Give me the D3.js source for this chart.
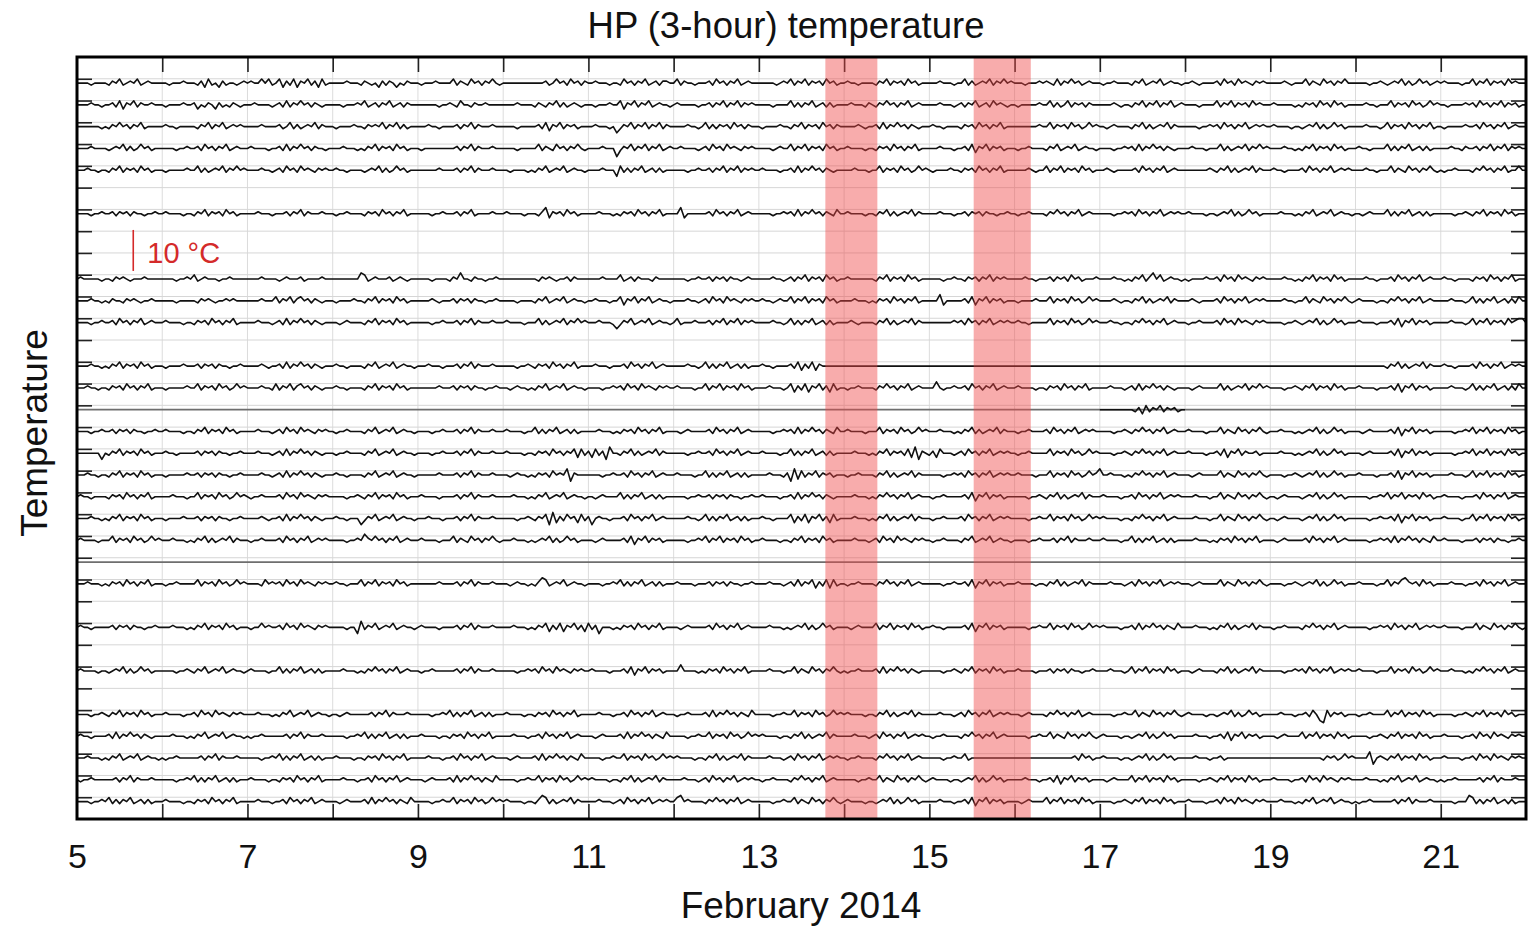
<!DOCTYPE html>
<html><head><meta charset="utf-8">
<script src="https://cdn.jsdelivr.net/npm/d3@7/dist/d3.min.js"></script>
<style>
body{margin:0;background:#fff}
svg{display:block}
text{font-family:"Liberation Sans",Arial,Helvetica,sans-serif}
</style>
</head><body>
<svg id="chart" width="1535" height="927"></svg>
<script>
// ---------------- DATA ----------------
const dayTicks = [5,6,7,8,9,10,11,12,13,14,15,16,17,18,19,20,21,22];
const labelDays = [5,7,9,11,13,15,17,19,21];
const bands = [[13.78,14.39],[15.52,16.19]];
const emptyLevels = [15, 22];
const STEP = 0.5; // degC per digit step, digit 5 = 0 degC
// one string per day (Feb 5 ... Feb 21) of hourly HP temperature samples, then the Feb 22 00:00 value
const st00 = ["555545555465745657456555","554555655546374536455456","565575745736473657463745","555565554654536465354655","545556555574654756465754","555555555555645756475646","556555455475646574564665","574655455564756465745655","555554565746574656475645","565545555465746564756455","555655545574645657465756","555455565654746575645655","545565555465745657456554","556545555647564756546565","555565455574654756465755","555545565456574645756456","565555455746574656475655","5"];
const st01 = ["555565545564736574655655","545555655635465364546545","556555545647465756465455","555455565745646574564655","555555455654755465565555","555565555465465746456545","554555655736574657456554","565555545564657465746565","555545555746465745646455","556555465465756465745655","555655545646574564756545","545555565574645746564655","555565455465746574657456","555545555746574656475655","565555545465647564756455","555655455574656475645756","554555565647564657465645","5"];
const st02 = ["555555545465756465745555","565545555546574657456565","555565555645746456574655","545555655465657465746455","555655455556465746555655","555545555564736574656455","556555452465746574657465","555565545746465647564655","545555655465746564756465","555565455647465756465455","565545555465647564657455","555555565574656475645756","554565555465746456574655","555545565647564657456565","565555455456574645756455","555655545746564756465745","545555565564756465745655","5"];
const st03 = ["555565555456574645756455","555545565564756465745655","565555455647465756465545","555655545465746564756455","545555555556465746555655","555545555574654756465754","555565551465746574657456","556555545647564756546565","555545655746574656475645","565555455465647564657455","555655545564736574656455","545565555465745657456554","555545565647465756465455","556555455574645657465756","555565545465746564756455","565545555746465745646455","555655465564657465746565","5"];
const st04 = ["555655455465746564756455","545555565574645657465756","555565545647564756546565","565545555456574645756455","555555655556465746555655","554555545465745657456554","555565552746465745646455","555545565564657465746565","565555455647465756465455","555655545574656475645756","545555655465647564657455","555565455746574656475645","556545555564756465745655","555555565465746456574655","565545555647564657456565","555655455574654756465754","545565555465756465745575","5"];
const st06 = ["555545565564656465545565","565555455465746564756455","555655545556465746555655","545565555465647564657455","555545565556465745555655","565555455546836564756455","555655545465647564657455","558355555564756465745655","555545565647465756465475","565555455465746456574655","555655545564656465545565","545565555465756465745655","555545565647564657456565","565555455456574645756455","555655545465745657456554","554565555746465745646455","555545565465746564756455","5"];
const st09 = ["565555545546565455565555","555545565745655545565555","555565555456555645555655","555555558745655564565455","555545555465855465545565","555555555546565455646555","555565555745646555465555","555545565564656465545655","555565545646574656475645","565555555465746564756455","555545565546564657465655","555655455564656475645556","555565545465746857456554","545555655647564756546565","555565545465746564756455","555655455564756465745655","565545555465647564657455","5"];
const st10 = ["555565545465546565455655","555545555546565455656555","555565557465746756465455","545555655465746564756455","555565455564656465545565","555545555465745657456554","556555455736574657456554","555565545647564756546565","565545655746574656475645","555655545465647564657455","555835555564736574656455","545555655574656475645756","555565455465746456574655","556545555647564657456565","555565545574654756465754","565555455465756465745655","555655545746465745646475","5"];
const st11 = ["555545565564756465745655","565555455465647564657455","555655545647465756465455","554565555465746564756455","555545565556465746555655","565555455574645657465756","555655542465745657456554","574555655564657465746565","555565545746465745646455","556545555465746456574655","555555565647564657456565","565545555574656475645756","555655455465756465745655","545565555647564756546565","555545565456574645756455","565555455564736574656455","555655545746574656475677","5"];
const st13 = ["555565545465746564756455","545555655564656465545565","555565455647465756465455","565545555465745657456554","555655545556465746555655","555545565465647564657455","556555455564756465745655","555565545746465745646455","565545555647364736555555","555555555555555555555555","555555555555555555555555","555555555555555555555555","555555555555555555555555","555555555555555555555555","555555555555555555555555","555555555465746456574655","565545555647564657456565","5"];
const st14 = ["555655455465647564657455","545555565574656475645756","555565547465746756465455","565545555465746564756455","555555655564656465545565","554565545465745657456554","555545565647564756546565","565555455746574656475645","555655545736473657463745","545565555465756465745655","558545565564756465745655","565555455465647564657455","555655545647465756465455","554565555574645657465756","555545565465746564756455","565555455564736574656455","555655545746465745646475","5"];
const st15 = ["555555555546374657465645","5"]; // Feb 17 - 18 only
const st16 = ["555545565564656465545565","565555455465746564756455","555655545647564756546565","545565555465745657456554","555545565556465746555655","565555455746465745646455","555655545465647564657455","554565555564756465745655","555545565647465756465475","565555455574656475645756","555655545465746456574655","545565555647564657456565","555545565465756465745655","565555455574654756465754","555655545456574645756455","554565555564736574656455","555545565746574656475645","5"];
const st17 = ["555555525465746564756455","565545555564656465545565","555655545647465756465455","545565555465745657456554","555545565556465746555655","565555455465647564657374","637462855465746456574655","555545565564756465745655","565555455746465745646455","555655545465746564738265","463755545647564657456565","545565555574656475645756","555545565465756465745655","565555455647365746556455","555655545456574645756455","554565555564736574656455","555545565746574656475645","5"];
const st18 = ["555655455465746564756455","545555565564656465545565","555565545647465756465455","565545555465745657456554","555555655556465746555655","554565545465647565826555","555545565564756465745655","565555455746465745646455","555655546283746574656455","545565555465746456574655","555545565647564657456565","565555455574656475645756","855655545465756465745655","554565555574654756465754","555545565456574645756455","565555455564736574656455","555655545746574656475645","5"];
const st19 = ["565545555465647564657455","555655545574656475645756","545565555647564756546565","555545565465746564756455","565555455556465746555655","555655545465745657456554","554565555746465745646455","555545565564656465545565","565555455647465756465455","555655545465756465745655","545565555564736574656455","555545565465746456574655","565555455647564657456565","555655545574654756465754","554565555456574645756455","555545565746574656475645","565555455564756465745655","5"];
const st20 = ["555565545465746564756455","545555655564656465545565","555565455647465756465455","565545552465745657456554","555655545556465746555655","555545565465728364756374","625655455564756465745655","555565545746465745646455","565545555736473657463745","555655545465746456574655","545565555647564657456565","555545565574656475645756","565555455465756465745655","555655545574654756465754","554565555456574645756455","555545565564736574656455","565555455746574656475645","5"];
const st21 = ["565555455574656475645756","555655545465746456574655","545565555647564657456565","555545565865756465745655","565555455574654756465754","555655545456574645756455","554565555564736574656455","555545565746574656475645","565555455465746564756455","555655545647564756546565","545565555465745657456554","555545565556465746555655","565555455746465745646455","555655545465647564657455","554565555564756465745655","555545565647465756465475","565555455564656465545565","5"];
const st23 = ["555655545465647564657455","545565555574656475645756","555547565647564756546565","565545557465746564756455","555555655556465746555655","554565545468745657456554","555545565746465745646455","565555455564656465545565","555655545647465736473745","545565555465756465745655","555545565564736574656455","565555455465746456574655","555655545647564657456565","554565555574654756465754","555545565456574645756455","565555455746578656475645","555655545564756465745655","5"];
const st25 = ["565545555564656465545565","555655545465746564756455","545575655647564756546565","555545528465745657456554","565555455556465746555655","555655545465736473657463","746255545465647564657455","554565555564756465745655","555655545456574645756455","554565555746574656475645","565545555564736574656455","555545565574656475645756","565555455647465756465475","555655545465746456574655","545565555465756465745655","555545565647564657456565","565555455574654756465754","5"];
const st27 = ["565555455456574645756455","555545565465745657456554","565555455746465745646455","555655545465756465745655","545565555556465746555655","555545565647564756546565","565555455564736574656455","558555545465647564657455","555655545574654756465754","545565555647465756465455","555545565465746564756455","565555455564656465545565","555655545746574656475645","554565555465746456574655","555545565647564657456565","565555455574656475645756","555655545465756465745655","5"];
const st29 = ["555545565465746564756455","565555455647564756546565","555655545465745657456554","554565555556465746555655","555545565746465745646455","565555455465647564657455","555655545564756465745655","545565555647465756465475","555545565574656475645756","565555455465746456574655","555655545647564657456565","554565555465756465745655","555545565574654756465754","565555455456574645756455","555655545564752174656455","545565555746574656475645","555545565465746564756455","5"];
const st30 = ["565545555647465756465455","555655545465745657456554","545565555556465746555655","555545565746465745646455","565555455465647564657455","555655545564756465745655","554565555647465756465475","555545565574656475645756","565555455465746456574655","555655545647564657456565","545565555465756465745655","555545565574654756465754","565555455456574645756455","555655545564736574656455","554565555746574656475645","555545565465746564756455","565555455647564756546565","5"];
const st31 = ["555655545465745657456554","545565555556465746555655","555545565746465745646455","565555455465647564657455","555655545564756465745655","554565555647465756465475","555545565574656475645756","565555455465746456574655","555655545647564657456565","545565555465756465745655","555545565574555555555555","555555555555555556475645","565555455456574645756455","555655545564555555555555","555555555555555465645756","555582565465746564756455","565555455647564756546565","5"];
const st32 = ["545565555556465746555655","555545565746465745646455","565555455465647564657455","555655545564756465745655","554565555647465756465475","555545565574656475645756","565555455465746456574655","555655545647564657456565","545565555465756465745655","555545565574654756465754","565555455456574645756455","555655545564736574656455","554565555746574656475645","555545565465746564756455","565555455647564756546565","555655545465745657456554","545565555556465746555655","5"];
const st33 = ["555545565746465745646455","565555455465647564657455","555655545564756465745655","554565555647465756465475","555545565574656475645756","565555455468746456574655","555655545647564657456565","578565555465756465745655","555545565574654756465754","565555455456574645756455","555655545564736574656455","554565555746574656475645","555545565465746564756455","565555455647564756546565","555655545465745657456554","545565555556465746555655","555545558746465745646455","5"];

const stations = [
  {level:0, start:5, days:st00},{level:1, start:5, days:st01},{level:2, start:5, days:st02},
  {level:3, start:5, days:st03},{level:4, start:5, days:st04},{level:6, start:5, days:st06},
  {level:9, start:5, days:st09},{level:10, start:5, days:st10},{level:11, start:5, days:st11},
  {level:13, start:5, days:st13},{level:14, start:5, days:st14},{level:15, start:17, days:st15},
  {level:16, start:5, days:st16},{level:17, start:5, days:st17},{level:18, start:5, days:st18},
  {level:19, start:5, days:st19},{level:20, start:5, days:st20},{level:21, start:5, days:st21},
  {level:23, start:5, days:st23},{level:25, start:5, days:st25},{level:27, start:5, days:st27},
  {level:29, start:5, days:st29},{level:30, start:5, days:st30},{level:31, start:5, days:st31},
  {level:32, start:5, days:st32},{level:33, start:5, days:st33}
];
const scaleBar = {level:8, degC:10, day:5.66, label:"10 °C"};

// ---------------- CHART ----------------
const W = 1535, H = 927;
const L = 77, R = 1526, T = 57, B = 819;
const svg = d3.select("#chart");
svg.append("rect").attr("width",W).attr("height",H).attr("fill","#fff");

const x = d3.scaleLinear().domain([5,22]).range([L,R]);
const y = d3.scaleLinear().domain([-1,34]).range([T,B]);
const degPx = d3.scaleLinear().domain([0,10]).range([0,41]);
const BASE = 0.2;
const levels = d3.range(0,34);
const innerDays = dayTicks.filter(d=>d>5&&d<22);

svg.append("defs").append("clipPath").attr("id","clip")
  .append("rect").attr("x",L).attr("y",T).attr("width",R-L).attr("height",B-T);

const grid = svg.append("g");
grid.selectAll(".vg").data(innerDays).join("line")
  .attr("x1",d=>x(d)).attr("x2",d=>x(d)).attr("y1",T).attr("y2",B)
  .attr("stroke","#dcdcdc").attr("stroke-width",1);
grid.selectAll(".hg").data(levels).join("line")
  .attr("x1",L).attr("x2",R).attr("y1",d=>y(d)).attr("y2",d=>y(d))
  .attr("stroke","#d6d6d6").attr("stroke-width",1);

const tickAxisStyle = g => { g.select(".domain").remove(); g.selectAll("text").remove();
  g.selectAll(".tick line").attr("stroke","#222").attr("stroke-width",1.6); };
svg.append("g").attr("transform",`translate(0,${B})`)
  .call(d3.axisTop(x).tickValues(innerDays).tickSize(15)).call(tickAxisStyle);
svg.append("g").attr("transform",`translate(0,${T})`)
  .call(d3.axisBottom(x).tickValues(innerDays).tickSize(15)).call(tickAxisStyle);
svg.append("g").attr("transform",`translate(${L},0)`)
  .call(d3.axisRight(y).tickValues(levels).tickSize(15)).call(tickAxisStyle);
svg.append("g").attr("transform",`translate(${R},0)`)
  .call(d3.axisLeft(y).tickValues(levels).tickSize(15)).call(tickAxisStyle);

const plot = svg.append("g").attr("clip-path","url(#clip)");
plot.selectAll(".empty").data(emptyLevels).join("line")
  .attr("x1",L).attr("x2",R)
  .attr("y1",d=>y(d+BASE)).attr("y2",d=>y(d+BASE))
  .attr("stroke","#6e6e6e").attr("stroke-width",1.8);

function points(st){
  const pts = [];
  st.days.forEach((s,gi)=>{
    const day = st.start + gi;
    for(let i=0;i<s.length;i++) pts.push({t: day + i/s.length, v: (+s[i]-5)*STEP});
  });
  return pts;
}
stations.forEach(st=>{
  const base = y(st.level + BASE);
  const line = d3.line().x(d=>x(d.t)).y(d=>base - degPx(d.v));
  plot.append("path").datum(points(st)).attr("d",line)
    .attr("fill","none").attr("stroke","#111").attr("stroke-width",1.6)
    .attr("stroke-linejoin","round");
});

svg.selectAll(".band").data(bands).join("rect")
  .attr("x",d=>x(d[0])).attr("width",d=>x(d[1])-x(d[0]))
  .attr("y",T).attr("height",B-T)
  .attr("fill","#f04646").attr("fill-opacity",0.45);

svg.append("rect").attr("x",L).attr("y",T).attr("width",R-L).attr("height",B-T)
  .attr("fill","none").attr("stroke","#000").attr("stroke-width",3);

const sbBase = y(scaleBar.level) + 18;
svg.append("line").attr("x1",x(scaleBar.day)).attr("x2",x(scaleBar.day))
  .attr("y1",sbBase).attr("y2",sbBase - degPx(scaleBar.degC))
  .attr("stroke","#d42a2a").attr("stroke-width",1.6);
svg.append("text").attr("x",x(scaleBar.day)+14).attr("y",sbBase-8)
  .attr("fill","#d42a2a").attr("font-size",29).text(scaleBar.label);

const xa = svg.append("g").attr("transform",`translate(0,${B})`)
  .call(d3.axisBottom(x).tickValues(labelDays).tickSize(0).tickPadding(25).tickFormat(d3.format("d")));
xa.select(".domain").remove();
xa.selectAll("text").attr("font-size",34).attr("fill","#111")
  .attr("font-family",'"Liberation Sans",Arial,sans-serif');

svg.append("text").attr("x",801).attr("y",918).attr("text-anchor","middle")
  .attr("font-size",37).attr("fill","#111").text("February 2014");
svg.append("text").attr("transform","translate(47,433) rotate(-90)").attr("text-anchor","middle")
  .attr("font-size",37).attr("fill","#111").text("Temperature");
svg.append("text").attr("x",786).attr("y",38).attr("text-anchor","middle")
  .attr("font-size",36.5).attr("fill","#111").text("HP (3-hour) temperature");
</script>
</body></html>
